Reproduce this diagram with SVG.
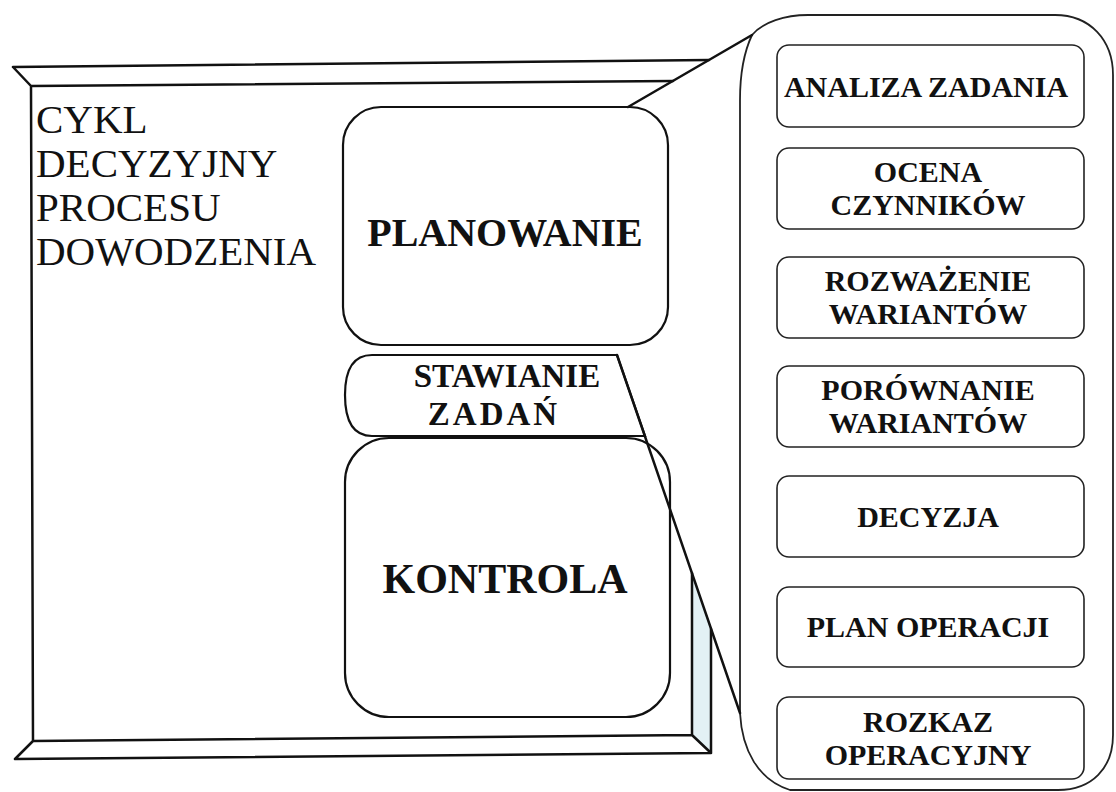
<svg xmlns="http://www.w3.org/2000/svg" width="1116" height="792" viewBox="0 0 1116 792">
<style>
.ln{stroke:#111;stroke-width:2.5;fill:none;stroke-linecap:round;stroke-linejoin:round}
.co{stroke:#222;stroke-width:1.8;fill:#fff;stroke-linejoin:round}
.bx{stroke:#111;stroke-width:2.2;fill:#fff}
.sb{stroke:#222;stroke-width:1.6;fill:#fff}
.title{font-family:"Liberation Serif","Times New Roman",serif;font-size:41px;fill:#111}
.big{font-family:"Liberation Serif","Times New Roman",serif;font-weight:bold;fill:#111;text-anchor:middle}
.sm{font-family:"Liberation Serif","Times New Roman",serif;font-weight:bold;font-size:30px;fill:#111;text-anchor:middle}
</style>
<rect width="1116" height="792" fill="#fff"/>
<g id="frame">
<polygon points="692,573 711,629 711,753 692,735" fill="#e3f1f5"/>
<path class="ln" d="M13,67 L709,60 M13,67 L31,86 L673,81 M31,86 L33,741 L692,735 L692,573 M33,741 L15,759 L711,753 L711,629 M692,735 L711,753"/>
</g>
<g id="title">
<text class="title" x="36" y="133">CYKL</text>
<text class="title" x="36" y="177">DECYZYJNY</text>
<text class="title" x="36" y="221">PROCESU</text>
<text class="title" x="36" y="265">DOWODZENIA</text>
</g>
<g id="callout">
<path class="co" d="M752,35 C744,52 740,72 740,100 L740,713 C742,750 758,780 790,790 L1058,790 C1092,790 1113,768 1113,735 L1113,75 C1113,40 1090,15 1055,15 L808,15 C785,15 763,22 752,35 Z"/>
</g>
<g id="planowanie">
<rect class="bx" x="343" y="107" width="325" height="238" rx="38"/>
<text class="big" x="505" y="246" font-size="40">PLANOWANIE</text>
</g>
<g id="kontrola">
<rect class="bx" x="345" y="438" width="325" height="279" rx="44"/>
<text class="big" x="505" y="593" font-size="42">KONTROLA</text>
</g>
<g id="stawianie">
<path class="bx" d="M617,355 L372,355 C352,355 345,372 345,395 C345,420 352,436 372,436 L645,436 Z"/>
<text class="big" x="507" y="387" font-size="33">STAWIANIE</text>
<text class="big" x="494" y="425" font-size="33" letter-spacing="3">ZADAŃ</text>
</g>
<g id="connectors">
<line class="ln" x1="628" y1="107" x2="752" y2="35"/>
<line class="ln" x1="617" y1="355" x2="740" y2="713"/>
</g>
<g id="analiza">
<rect class="sb" x="777" y="45" width="307" height="82" rx="12"/>
<text class="sm" x="926" y="97">ANALIZA ZADANIA</text>
</g>
<g id="ocena">
<rect class="sb" x="777" y="148" width="307" height="81" rx="12"/>
<text class="sm" x="928" y="182">OCENA</text>
<text class="sm" x="928" y="215">CZYNNIKÓW</text>
</g>
<g id="rozwazenie">
<rect class="sb" x="777" y="257" width="307" height="81" rx="12"/>
<text class="sm" x="928" y="291">ROZWAŻENIE</text>
<text class="sm" x="928" y="324">WARIANTÓW</text>
</g>
<g id="porownanie">
<rect class="sb" x="777" y="366" width="307" height="81" rx="12"/>
<text class="sm" x="928" y="400">PORÓWNANIE</text>
<text class="sm" x="928" y="433">WARIANTÓW</text>
</g>
<g id="decyzja">
<rect class="sb" x="777" y="476" width="307" height="81" rx="12"/>
<text class="sm" x="928" y="527">DECYZJA</text>
</g>
<g id="plan">
<rect class="sb" x="777" y="587" width="307" height="80" rx="12"/>
<text class="sm" x="928" y="637">PLAN OPERACJI</text>
</g>
<g id="rozkaz">
<rect class="sb" x="777" y="697" width="307" height="82" rx="12"/>
<text class="sm" x="928" y="732">ROZKAZ</text>
<text class="sm" x="928" y="765">OPERACYJNY</text>
</g>
</svg>
